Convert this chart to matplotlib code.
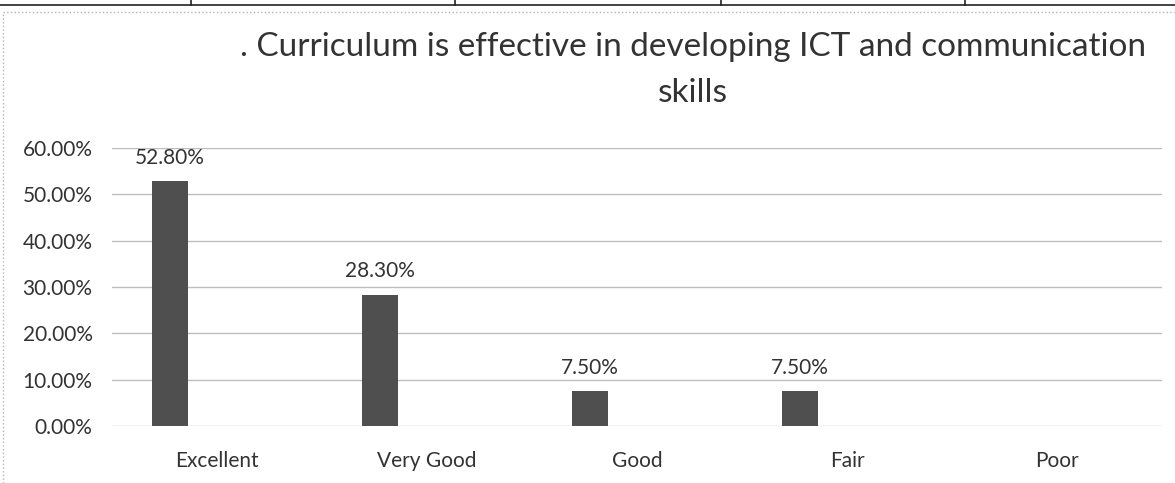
import numpy as np
import matplotlib.pyplot as plt
from matplotlib.lines import Line2D
from matplotlib.ticker import PercentFormatter

# survey answers, share of respondents
categories = ["Excellent", "Very Good", "Good", "Fair", "Poor"]
shares = [0.528, 0.283, 0.075, 0.075, np.nan]
bar_labels = ["52.80%", "28.30%", "7.50%", "7.50%", ""]

title = ". Curriculum is effective in developing ICT and communication\nskills"

plt.rcParams['font.family'] = ['Lato', 'DejaVu Sans']
txt = '#333333'

fig = plt.figure(figsize=(11.75, 4.83), dpi=100)
ax = fig.add_axes([0.0953, 0.118, 0.8936, 0.5756])

x = np.arange(len(categories))
bx = x - 0.224
bars = ax.bar(bx, shares, width=0.171, color='#4f4f4f', zorder=3)
for xi, v, lab in zip(bx, shares, bar_labels):
	if lab:
		ax.annotate(lab, (xi, v), xytext=(0, 17), textcoords='offset points',
			ha='center', va='center', fontsize=15, color=txt)

ax.set_xlim(-0.5, 4.5)
ax.set_ylim(0, 0.6)
ax.set_yticks(np.arange(0, 0.61, 0.1))
ax.yaxis.set_major_formatter(PercentFormatter(1.0, decimals=2))
ax.set_xticks(x)
ax.set_xticklabels(categories)
ax.tick_params(axis='both', length=0, labelsize=15, labelcolor=txt)
ax.tick_params(axis='x', pad=18)
ax.tick_params(axis='y', pad=14)
ax.grid(axis='y', color='#bdbdbd', lw=1, zorder=0)
for s in ax.spines.values():
	s.set_visible(False)

fig.text(0.59, 0.855, title, ha='center', va='center', fontsize=24,
	color=txt, linespacing=1.65)

# bits of the scanned page: table line above, chart border
fig.add_artist(Line2D([0, 1], [0.99, 0.99], color='#222222', lw=1.2))
for xv in [191, 455, 721, 965]:
	fig.add_artist(Line2D([xv/1175, xv/1175], [0.99, 1.0], color='#222222', lw=1.2))
fig.add_artist(Line2D([3/1175, 3/1175], [0, 0.975], color='#b5b5b5', lw=1, ls=':'))
fig.add_artist(Line2D([3/1175, 1], [0.975, 0.975], color='#b5b5b5', lw=1, ls=':'))

fig.savefig('out.png', dpi=100)
